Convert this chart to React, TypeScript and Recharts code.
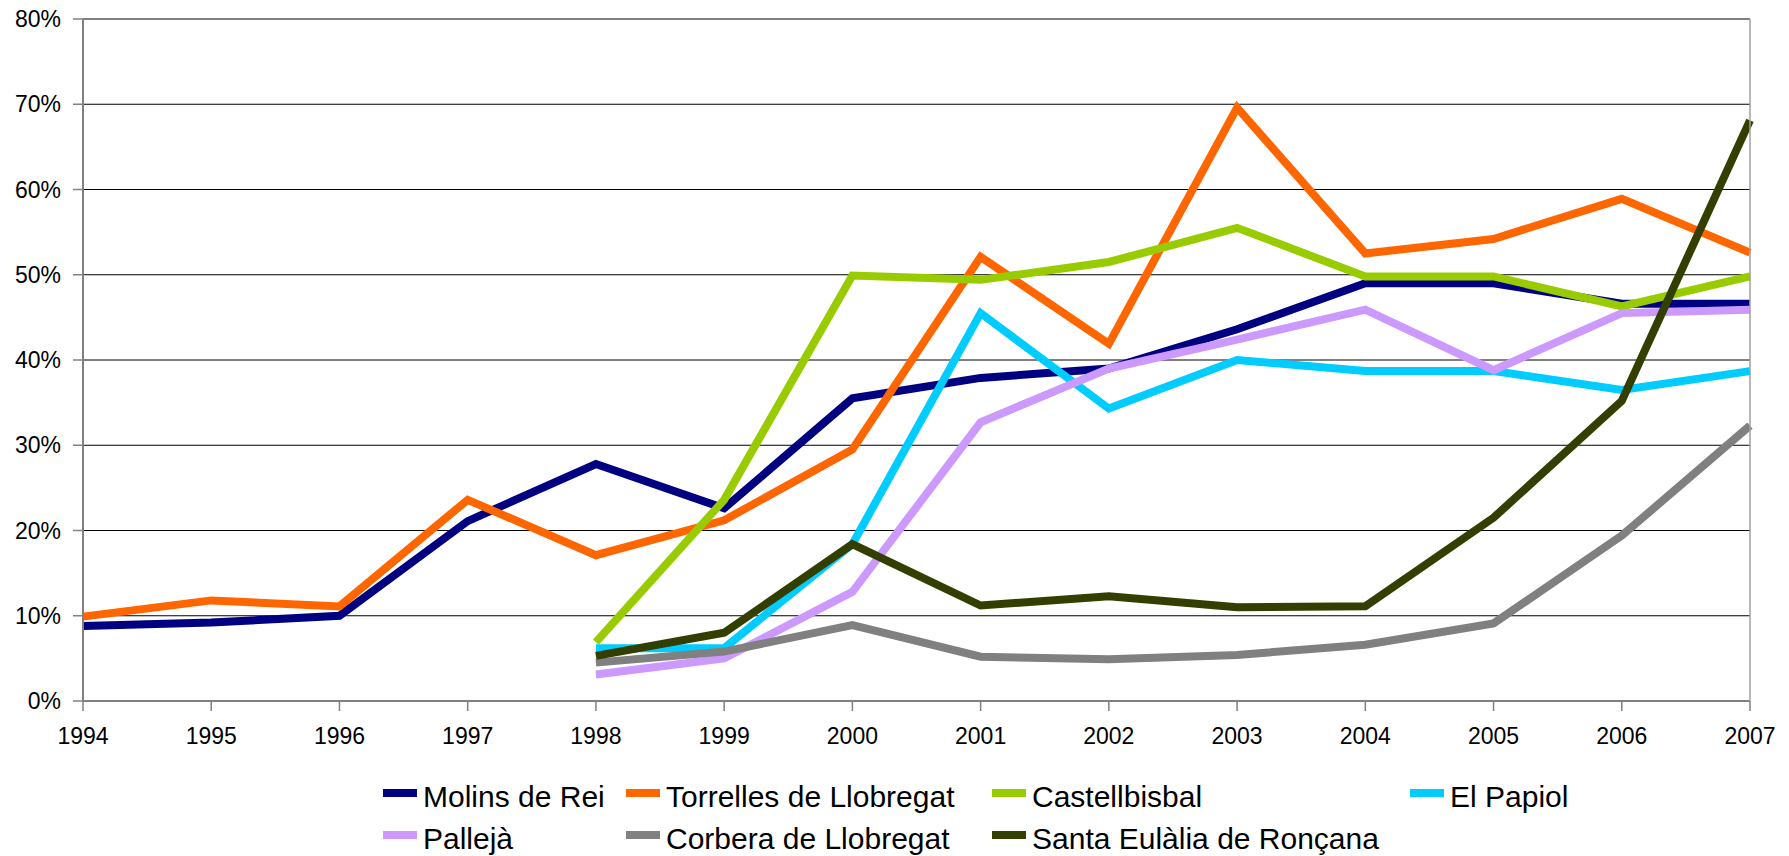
import { LineChart, Line, XAxis, YAxis, CartesianGrid } from "recharts";

// años del eje X
const YEARS = [1994, 1995, 1996, 1997, 1998, 1999, 2000, 2001, 2002, 2003, 2004, 2005, 2006, 2007];
const Y_TICKS = [0, 10, 20, 30, 40, 50, 60, 70, 80];

// valores en %, null = sin dato
const MOLINS = [8.8, 9.2, 10.0, 21.1, 27.8, 22.6, 35.5, 37.9, 39.0, 43.6, 49.0, 49.0, 46.6, 46.6];
const TORRELLES = [9.9, 11.8, 11.1, 23.6, 17.1, 21.2, 29.5, 52.1, 41.9, 69.6, 52.5, 54.2, 58.9, 52.6];
const CASTELLBISBAL = [null, null, null, null, 6.9, 23.6, 49.9, 49.4, 51.5, 55.5, 49.8, 49.8, 46.3, 49.8];
const PAPIOL = [null, null, null, null, 6.2, 6.2, 18.4, 45.5, 34.3, 40.0, 38.7, 38.7, 36.5, 38.7];
const PALLEJA = [null, null, null, null, 3.1, 5.0, 12.8, 32.7, 39.0, 42.4, 45.9, 38.8, 45.5, 45.9];
const CORBERA = [null, null, null, null, 4.5, 5.8, 8.9, 5.2, 4.9, 5.4, 6.6, 9.1, 19.4, 32.3];
const SANTA_EULALIA = [null, null, null, null, 5.3, 8.0, 18.4, 11.2, 12.3, 11.0, 11.1, 21.5, 35.2, 68.1];

const SERIES = [
  { key: "molins", name: "Molins de Rei", color: "#000080", values: MOLINS },
  { key: "torrelles", name: "Torrelles de Llobregat", color: "#FF6600", values: TORRELLES },
  { key: "castellbisbal", name: "Castellbisbal", color: "#99CC00", values: CASTELLBISBAL },
  { key: "papiol", name: "El Papiol", color: "#00CCFF", values: PAPIOL },
  { key: "palleja", name: "Pallejà", color: "#CC99FF", values: PALLEJA },
  { key: "corbera", name: "Corbera de Llobregat", color: "#808080", values: CORBERA },
  { key: "santa", name: "Santa Eulàlia de Ronçana", color: "#333f00", values: SANTA_EULALIA },
];

const FONT = "'Liberation Sans', Arial, sans-serif";

export default function App() {
  const data = YEARS.map((year, i) => {
    const row: Record<string, number | null> = { year };
    SERIES.forEach(s => { row[s.key] = s.values[i]; });
    return row;
  });

  return (
    <div style={{ position: "absolute", left: 0, top: 0, width: 1789, height: 856, background: "#fff", fontFamily: FONT }}>
      <LineChart width={1789} height={856} data={data} margin={{ top: 19, right: 0, left: 0, bottom: 95 }}>
        <CartesianGrid vertical={false} stroke="#000" strokeWidth={1} />
        <XAxis
          dataKey="year"
          height={60}
          tickSize={10}
          tickMargin={17}
          interval={0}
          axisLine={{ stroke: "#808080", strokeWidth: 2 }}
          tickLine={{ stroke: "#808080", strokeWidth: 1.5 }}
          tick={{ fontSize: 23, fill: "#000", fontFamily: FONT }}
        />
        <YAxis
          width={83}
          domain={[0, 80]}
          ticks={Y_TICKS}
          tickSize={10}
          tickMargin={12}
          tickFormatter={v => `${v}%`}
          axisLine={{ stroke: "#808080", strokeWidth: 2 }}
          tickLine={{ stroke: "#808080", strokeWidth: 1.5 }}
          tick={{ fontSize: 23, fill: "#000", fontFamily: FONT }}
        />
        {/* borde derecho del área de trazado */}
        <YAxis
          yAxisId="r"
          orientation="right"
          width={39}
          domain={[0, 80]}
          tick={false}
          tickLine={false}
          axisLine={{ stroke: "#a0a0a0", strokeWidth: 1.5 }}
        />
        {SERIES.map(s => (
          <Line
            key={s.key}
            type="linear"
            dataKey={s.key}
            name={s.name}
            stroke={s.color}
            strokeWidth={8}
            dot={false}
            activeDot={false}
            connectNulls={false}
            isAnimationActive={false}
          />
        ))}
      </LineChart>

      {/* Leyenda */}
      <div style={{
        position: "absolute", left: 383, top: 776,
        display: "grid", gridTemplateColumns: "243px 366px 418px auto",
        fontSize: 30, lineHeight: "42px", color: "#000",
      }}>
        {SERIES.map(s => (
          <div key={s.key} style={{ display: "flex", alignItems: "center", whiteSpace: "nowrap" }}>
            <span style={{ display: "inline-block", width: 34, height: 8, background: s.color, marginRight: 6, marginTop: -8 }} />
            <span>{s.name}</span>
          </div>
        ))}
      </div>
    </div>
  );
}
